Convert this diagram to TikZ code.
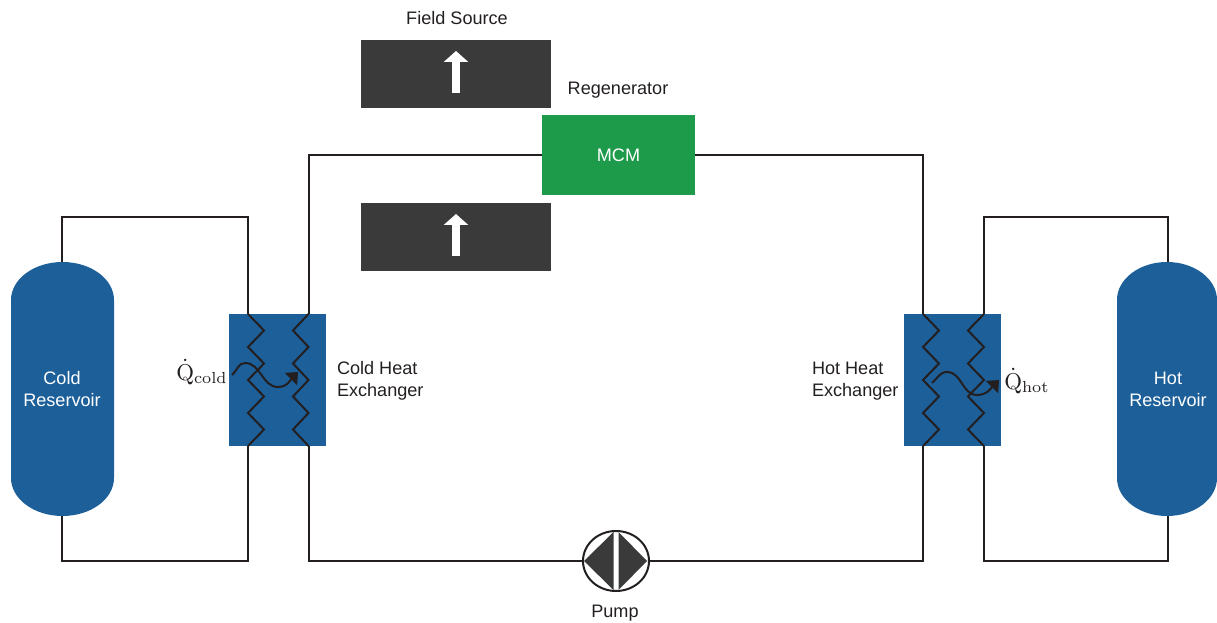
\documentclass[tikz,border=0pt]{standalone}
\usepackage{fontspec}
\setsansfont{Liberation Sans}
\usetikzlibrary{arrows.meta, shapes.geometric}
\definecolor{hxblue}{HTML}{1D5F99}
\definecolor{mcmgreen}{HTML}{1E9B4A}
\definecolor{fielddark}{HTML}{3A3A3A}
\definecolor{pipeblack}{HTML}{231F20}
\tikzset{
  pipe/.style={pipeblack,line width=0.02cm},
  heatflow/.style={pipeblack,line width=0.02cm,-{Triangle[length=0.1cm,width=0.17cm]}},
  fieldarrow/.style={white,line width=0.08cm,-{Triangle[length=0.11cm,width=0.24cm]}},
  txt/.style={font=\sffamily\fontsize{5.15}{6.3}\selectfont,text=pipeblack,inner sep=0pt,outer sep=0pt,align=left},
  qlabel/.style={inner sep=0pt,outer sep=0pt,text=pipeblack,scale=0.65},
  hxbox/.style={fill=hxblue,minimum width=0.97cm,minimum height=1.32cm,inner sep=0pt,outer sep=0pt},
  fieldbox/.style={fill=fielddark,minimum width=1.9cm,minimum height=0.68cm,inner sep=0pt,outer sep=0pt},
  resbox/.style={txt,text=white,align=center,minimum height=2.54cm}
}
% one coil of a heat exchanger, #3 gives the side it bulges to
\newcommand{\hxcoil}[3]{
\draw[pipe] (#1) -- ++(#3,-0.165) -- ++(-#3,-0.165) -- ++(#3,-0.165) -- ++(-#3,-0.165)
  -- ++(#3,-0.165) -- ++(-#3,-0.165) -- ++(#3,-0.165) -- (#2);
}
\begin{document}
\begin{tikzpicture}
\useasboundingbox (0,0) rectangle (12.17,6.23);
% reservoirs
\fill[hxblue] (0.11,3.23) -- (0.11,1.45) arc[start angle=180,end angle=360,x radius=0.515,y radius=0.38]
  -- (1.14,3.23) arc[start angle=0,end angle=180,x radius=0.515,y radius=0.38] -- cycle;
\fill[hxblue] (11.17,3.23) -- (11.17,1.45) arc[start angle=180,end angle=360,x radius=0.5,y radius=0.38]
  -- (12.17,3.23) arc[start angle=0,end angle=180,x radius=0.5,y radius=0.38] -- cycle;
\node[resbox] (coldres) at (0.62,2.34) {Cold\\Reservoir};
\node[resbox] (hotres) at (11.68,2.34) {Hot\\Reservoir};
% exchangers
\node[hxbox] (coldhx) at (2.775,2.43) {};
\node[hxbox] (hothx) at (9.525,2.43) {};
\coordinate (coldinA) at (2.48,3.09);
\coordinate (coldinB) at (2.48,1.77);
\coordinate (coldoutA) at (3.085,3.09);
\coordinate (coldoutB) at (3.085,1.77);
\coordinate (hotinA) at (9.23,3.09);
\coordinate (hotinB) at (9.23,1.77);
\coordinate (hotoutA) at (9.84,3.09);
\coordinate (hotoutB) at (9.84,1.77);
% regenerator and field
\node[txt,fill=mcmgreen,minimum width=1.53cm,minimum height=0.8cm,text=white] (regen) at (6.185,4.68) {MCM};
\node[fieldbox] (fieldtop) at (4.56,5.49) {};
\node[fieldbox] (fieldbot) at (4.56,3.86) {};
\draw[fieldarrow] ([yshift=-1.9mm]fieldtop.center) -- ([yshift=2.3mm]fieldtop.center);
\draw[fieldarrow] ([yshift=-1.9mm]fieldbot.center) -- ([yshift=2.3mm]fieldbot.center);
% pump
\node[ellipse,draw=pipeblack,line width=0.02cm,fill=white,minimum width=0.66cm,minimum height=0.6cm,inner sep=0pt,outer sep=0pt] (pump) at (6.16,0.62) {};
\fill[fielddark] ([xshift=-0.25mm]pump.center) -- ++(0,0.29) -- ([xshift=-3.2mm]pump.center) -- ([xshift=-0.25mm,yshift=-2.9mm]pump.center) -- cycle;
\fill[fielddark] ([xshift=0.25mm]pump.center) -- ++(0,0.29) -- ([xshift=3.1mm]pump.center) -- ([xshift=0.25mm,yshift=-2.9mm]pump.center) -- cycle;
% pipes
\draw[pipe] (coldres.north) |- (coldinA |- 0,4.06) -- (coldinA);
\draw[pipe] (coldres.south) |- (coldinB |- 0,0.62) -- (coldinB);
\draw[pipe] (regen.west) -| (coldoutA);
\draw[pipe] (regen.east) -| (hotinA);
\draw[pipe] (pump.west) -| (coldoutB);
\draw[pipe] (pump.east) -| (hotinB);
\draw[pipe] (hotres.north) |- (hotoutA |- 0,4.06) -- (hotoutA);
\draw[pipe] (hotres.south) |- (hotoutB |- 0,0.62) -- (hotoutB);
\hxcoil{coldinA}{coldinB}{0.16}
\hxcoil{coldoutA}{coldoutB}{-0.155}
\hxcoil{hotinA}{hotinB}{0.16}
\hxcoil{hotoutA}{hotoutB}{-0.16}
% heat flows
\coordinate (coldqs) at (2.32,2.48);
\coordinate (coldqa) at (2.45,2.60);
\coordinate (coldqb) at (2.78,2.36);
\coordinate (coldqe) at (2.98,2.51);
\draw[heatflow] (coldqs) to [out=40,in=180] (coldqa) to [out=0,in=180] (coldqb) to [out=0,in=225] (coldqe);
\coordinate (hotqs) at (9.32,2.40);
\coordinate (hotqa) at (9.47,2.51);
\coordinate (hotqb) at (9.77,2.28);
\coordinate (hotqe) at (9.99,2.43);
\draw[heatflow] (hotqs) to [out=40,in=180] (hotqa) to [out=0,in=180] (hotqb) to [out=0,in=225] (hotqe);
% labels
\node[txt] (fieldlabel) at (4.57,6.05) {Field Source};
\node[txt] (regenlabel) at (6.18,5.33) {Regenerator};
\node[txt,anchor=west] (coldlabel) at (3.37,2.42) {Cold Heat\\Exchanger};
\node[txt,anchor=west] (hotlabel) at (8.12,2.42) {Hot Heat\\Exchanger};
\node[txt] (pumplabel) at (6.15,0.10) {Pump};
\node[qlabel] (coldq) at (2.02,2.51) {$\dot{\mathrm{Q}}_{\mathrm{cold}}$};
\node[qlabel] (hotq) at (10.27,2.42) {$\dot{\mathrm{Q}}_{\mathrm{hot}}$};
\end{tikzpicture}
\end{document}
